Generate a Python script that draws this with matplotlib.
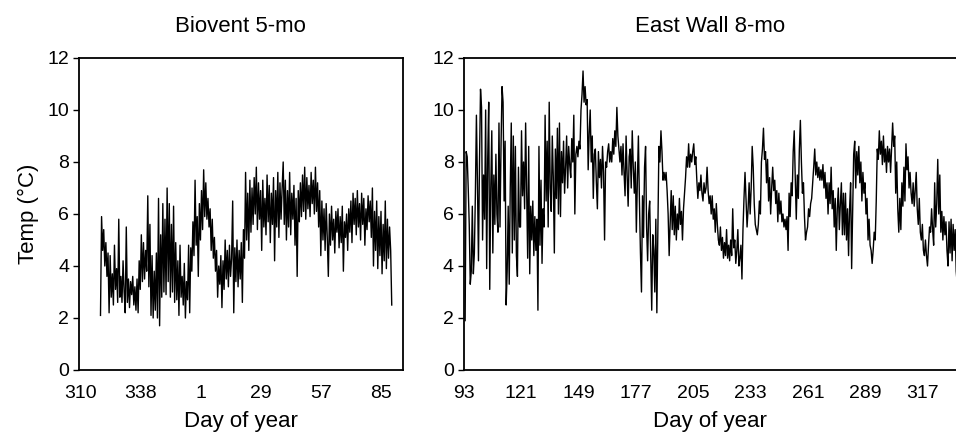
import matplotlib
matplotlib.use("Agg")
import matplotlib.pyplot as plt
import numpy as np

plt.rcParams['font.family'] = ['Liberation Sans', 'DejaVu Sans']

# ---------------- data ----------------
# Biovent 5-mo: readings every half day starting at day 319.5 (days after 365 continue as 366, 367, ...)
biovent_start_day = 319.5
biovent_step = 0.5
biovent_temp = [
    2.1, 5.9, 4.6, 5.4, 4.0, 4.9, 3.6, 4.5, 2.2, 4.4,
    2.8, 3.7, 2.5, 4.8, 3.1, 3.9, 2.6, 5.8, 2.8, 3.6,
    2.6, 4.2, 3.0, 2.2, 5.5, 2.6, 3.5, 2.4, 3.4, 2.9,
    3.6, 2.5, 3.2, 2.3, 3.5, 2.2, 4.2, 3.1, 5.2, 3.4,
    4.9, 3.5, 4.6, 3.8, 6.7, 3.2, 5.6, 2.1, 4.4, 2.0,
    3.8, 2.3, 4.5, 2.0, 6.6, 1.7, 5.2, 2.8, 6.4, 3.0,
    5.8, 2.9, 7.0, 3.4, 6.4, 2.8, 5.6, 3.0, 6.3, 2.6,
    4.9, 2.7, 4.2, 2.1, 4.8, 2.8, 3.6, 2.5, 4.1, 2.0,
    3.4, 2.7, 4.8, 2.2, 4.7, 3.8, 5.7, 4.4, 7.3, 4.8,
    5.9, 3.6, 6.4, 5.0, 6.9, 5.4, 7.7, 5.9, 7.2, 5.8,
    6.6, 5.5, 6.2, 4.6, 5.8, 4.3, 5.1, 3.8, 4.6, 2.8,
    4.0, 3.3, 4.4, 2.4, 4.2, 3.1, 5.0, 3.5, 4.6, 3.2,
    4.8, 3.6, 4.3, 6.5, 2.2, 4.7, 3.4, 5.0, 3.2, 4.6,
    3.5, 4.9, 2.6, 5.4, 4.3, 7.6, 5.0, 6.8, 4.6, 7.3,
    5.3, 7.0, 5.6, 7.4, 6.0, 7.8, 5.4, 7.2, 5.8, 6.9,
    4.6, 7.3, 5.5, 6.6, 5.2, 7.5, 5.7, 7.1, 4.9, 6.8,
    5.6, 7.4, 4.2, 6.9, 5.5, 7.6, 5.1, 7.2, 5.8, 7.0,
    8.0, 5.6, 7.3, 5.0, 6.9, 5.5, 7.6, 5.2, 6.8, 5.8,
    7.1, 4.8, 6.6, 3.6, 6.9, 5.7, 7.2, 5.9, 7.5, 6.1,
    7.8, 5.8, 7.4, 6.2, 7.1, 5.9, 7.6, 6.4, 7.3, 6.0,
    7.8, 6.1, 7.2, 5.5, 6.9, 4.4, 6.5, 5.0, 6.2, 4.6,
    6.4, 5.1, 3.6, 6.0, 4.8, 6.3, 5.0, 5.8, 4.5, 6.1,
    5.3, 6.2, 4.7, 5.9, 4.9, 6.3, 3.8, 5.7, 5.1, 6.0,
    4.6, 6.2, 5.3, 6.5, 4.9, 6.8, 5.6, 6.6, 5.2, 6.9,
    5.5, 6.4, 5.0, 6.8, 5.6, 6.6, 4.8, 6.2, 5.4, 6.7,
    5.7, 6.5, 5.1, 7.0, 4.0, 6.1, 4.6, 6.5, 3.9, 5.9,
    4.4, 6.1, 3.7, 5.6, 4.2, 6.5, 3.9, 5.8, 4.3, 5.5,
    4.6, 2.5,
]
biovent_ticks = [310, 338, 366, 394, 422, 450]
biovent_ticklabels = ['310', '338', '1', '29', '57', '85']

# East Wall 8-mo: readings every half day starting at day 93.8
eastwall_start_day = 93.8
eastwall_step = 0.5
eastwall_temp = [
    1.9, 8.4, 8.2, 7.0, 5.6, 3.3, 3.8, 6.3, 3.7, 4.5,
    6.8, 9.8, 7.2, 4.2, 8.0, 10.8, 10.1, 5.0, 7.5, 5.8,
    10.0, 3.9, 8.1, 10.3, 3.1, 7.0, 9.2, 4.5, 7.5, 5.6,
    8.3, 6.0, 5.3, 9.5, 5.5, 8.6, 10.9, 10.3, 6.5, 8.8,
    2.5, 3.8, 6.3, 3.3, 7.0, 9.5, 4.5, 9.0, 5.0, 8.6,
    4.4, 3.6, 7.8, 5.5, 5.5, 9.2, 6.7, 8.0, 6.2, 9.5,
    6.8, 4.3, 8.6, 3.7, 6.3, 5.0, 6.5, 4.4, 5.9, 4.6,
    5.8, 2.3, 8.6, 4.8, 7.3, 4.1, 6.2, 5.5, 9.8, 6.5,
    8.8, 5.5, 10.3, 7.0, 6.1, 9.0, 7.4, 4.5, 8.5, 6.6,
    9.3, 6.0, 9.5, 5.9, 8.4, 7.2, 8.8, 6.8, 7.8, 9.0,
    7.0, 8.6, 7.9, 7.4, 8.9, 8.0, 9.8, 6.0, 8.3, 8.6,
    8.2, 8.8, 8.5, 10.0, 10.6, 11.5, 10.3, 10.9, 10.2, 10.4,
    7.7, 9.1, 10.0, 8.0, 9.0, 6.6, 8.3, 8.5, 7.2, 6.2,
    8.4, 7.4, 8.1, 7.0, 8.6, 7.6, 5.0, 8.0, 7.8, 8.4,
    8.7, 8.0, 8.4, 8.0, 8.9, 8.3, 9.2, 8.6, 10.1, 9.0,
    8.5, 8.0, 8.6, 7.5, 8.7, 7.6, 6.7, 9.0, 7.5, 6.3,
    8.2, 8.5, 7.0, 9.2, 7.8, 6.8, 8.0, 5.3, 7.3, 9.0,
    6.5, 4.5, 3.0, 6.7, 5.1, 7.8, 8.6, 5.5, 4.2, 6.0,
    6.5, 4.4, 2.3, 5.2, 4.6, 3.0, 5.8, 2.2, 5.5, 8.6,
    8.0, 9.2, 8.4, 7.3, 7.6, 7.3, 7.6, 6.9, 6.0, 4.4,
    5.6, 6.9, 5.4, 6.7, 5.2, 6.3, 5.0, 6.0, 5.4, 6.6,
    5.6, 6.1, 5.0, 6.2, 6.8, 7.4, 8.2, 7.8, 8.7, 7.8,
    8.3, 8.0, 8.4, 8.7, 7.9, 8.2, 7.3, 6.6, 7.2, 6.9,
    7.5, 6.8, 6.5, 7.2, 6.8, 7.0, 7.8, 6.9, 6.4, 6.7,
    6.0, 6.7, 5.8, 6.2, 5.3, 6.4, 5.6, 5.0, 4.8, 5.5,
    4.6, 5.1, 4.3, 4.9, 4.4, 5.4, 4.3, 4.8, 4.2, 5.0,
    4.4, 6.2, 4.7, 5.0, 4.1, 4.6, 5.4, 4.0, 4.3, 4.8,
    3.5, 5.4, 6.6, 7.6, 6.6, 5.5, 6.2, 7.2, 6.0, 7.0,
    8.6, 7.8, 6.4, 5.6, 5.4, 5.2, 5.6, 6.5, 6.0, 8.0,
    8.5, 9.3, 8.1, 8.4, 7.2, 8.1, 6.5, 7.4, 6.0, 7.0,
    7.8, 6.9, 7.3, 6.4, 6.9, 5.7, 6.8, 6.0, 6.5, 5.7,
    6.0, 5.5, 5.8, 5.4, 5.9, 4.6, 6.8, 5.9, 7.2, 6.7,
    8.4, 9.2, 7.4, 5.8, 7.5, 6.6, 8.5, 9.6, 8.0, 6.8,
    7.2, 5.9, 5.0, 5.3, 5.5, 6.2, 5.9, 6.4, 6.6, 7.2,
    7.8, 8.5, 7.5, 8.0, 7.4, 7.8, 7.3, 7.7, 7.3, 7.9,
    7.0, 7.6, 6.6, 7.2, 6.0, 7.2, 6.4, 7.8, 6.2, 6.9,
    5.5, 6.6, 4.6, 6.2, 7.0, 5.4, 6.4, 7.2, 5.2, 6.8,
    5.2, 6.8, 5.0, 6.2, 4.4, 6.2, 7.2, 3.9, 6.0, 8.3,
    8.8, 7.0, 8.4, 7.5, 8.6, 7.2, 8.0, 6.5, 7.6, 6.8,
    7.2, 6.0, 6.6, 5.0, 5.8, 4.8, 4.6, 4.1, 4.6, 5.3,
    5.0, 6.5, 8.5, 8.1, 9.2, 8.3, 8.8, 7.9, 9.0, 8.0,
    8.5, 7.6, 8.6, 8.0, 8.5, 7.6, 8.6, 9.5, 8.6, 9.0,
    6.8, 8.0, 6.2, 5.3, 6.6, 5.4, 7.2, 6.3, 7.8, 6.5,
    8.7, 7.7, 8.2, 7.0, 7.6, 6.8, 6.4, 7.2, 6.3, 6.9,
    7.6, 6.2, 5.6, 6.6, 5.3, 5.0, 5.6, 4.6, 4.4, 5.0,
    4.4, 4.0, 4.8, 5.5, 5.3, 6.2, 5.4, 4.8, 7.2, 5.5,
    6.4, 8.1, 6.0, 7.5, 5.3, 6.1, 5.0, 5.9, 5.2, 5.7,
    4.6, 4.0, 5.7, 4.5, 5.8, 4.2, 5.6, 4.6, 5.4, 3.8,
    3.3,
]
eastwall_ticks = [93, 121, 149, 177, 205, 233, 261, 289, 317]
eastwall_ticklabels = ['93', '121', '149', '177', '205', '233', '261', '289', '317']

y_ticks = [0, 2, 4, 6, 8, 10, 12]

# ---------------- figure ----------------
W, H = 956, 437
fig = plt.figure(figsize=(W / 100, H / 100), dpi=100)

ax1 = fig.add_axes([79 / W, 67 / H, (402.7 - 79) / W, 312 / H])
ax2 = fig.add_axes([463.5 / W, 67 / H, (W - 463.5) / W, 312 / H])

bx = biovent_start_day + biovent_step * np.arange(len(biovent_temp))
ex = eastwall_start_day + eastwall_step * np.arange(len(eastwall_temp))

ax1.plot(bx, biovent_temp, color='black', lw=1.0)
ax2.plot(ex, eastwall_temp, color='black', lw=1.0)

ax1.set_xlim(309.5, 460.1)
ax2.set_xlim(93.0, 333.2)

for ax in (ax1, ax2):
    ax.set_ylim(0, 12)
    ax.set_yticks(y_ticks)
    ax.tick_params(axis='y', direction='out', length=4, width=1, pad=3, labelsize=14)
    ax.tick_params(axis='x', length=0, pad=11, labelsize=14)
    for s in ax.spines.values():
        s.set_linewidth(1.3)
    ax.set_xlabel('Day of year', fontsize=16, labelpad=6)

ax2.spines['right'].set_visible(False)

ax1.set_xticks(biovent_ticks)
ax1.set_xticklabels(biovent_ticklabels)
ax2.set_xticks(eastwall_ticks)
ax2.set_xticklabels(eastwall_ticklabels)

ax1.set_ylabel('Temp (°C)', fontsize=16, labelpad=6)
ax1.set_title('Biovent 5-mo', fontsize=16, pad=19)
ax2.set_title('East Wall 8-mo', fontsize=16, pad=19)

fig.savefig('out.png', dpi=100)
